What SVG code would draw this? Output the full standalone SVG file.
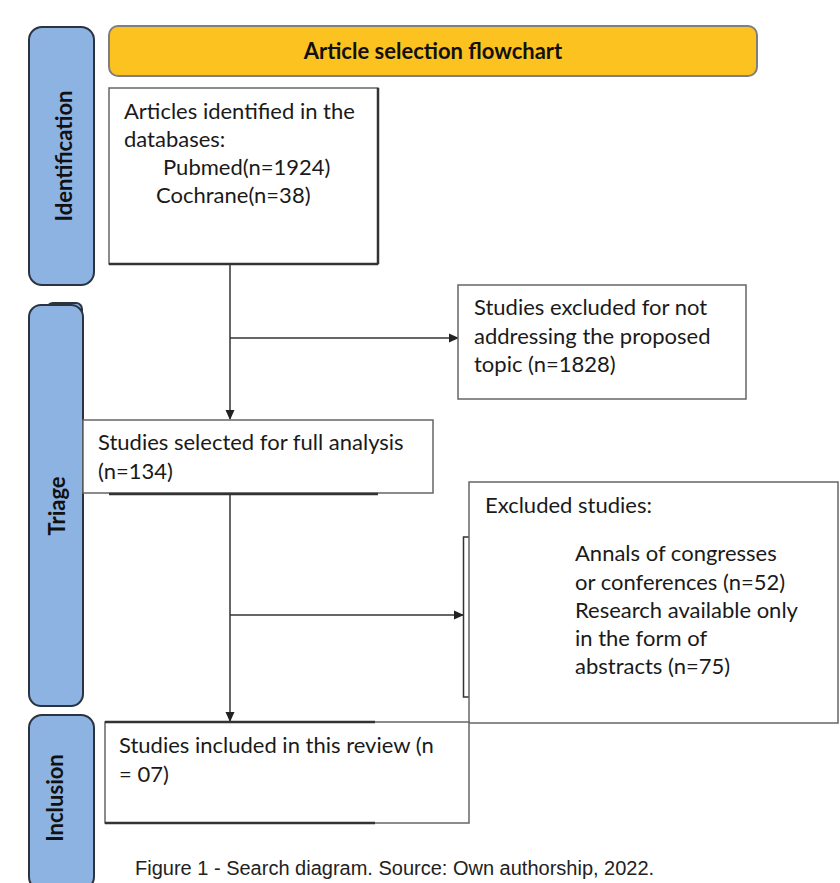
<svg xmlns="http://www.w3.org/2000/svg" width="840" height="883" viewBox="0 0 840 883">
<defs>
<marker id="ah" markerWidth="10" markerHeight="10" refX="9" refY="5" orient="auto" markerUnits="userSpaceOnUse">
<path d="M0,0.5 L10,5 L0,9.5 z" fill="#222"/>
</marker>
<style>
.side{fill:#8DB3E2;stroke:#2B3340;stroke-width:2}
.box{fill:#fff;stroke:#666;stroke-width:1.5}
.t{font-family:Lato,"Open Sans",sans-serif;font-size:22px;fill:#1a1a1a}
.sb{font-family:Lato,"Open Sans",sans-serif;font-size:22px;font-weight:bold;fill:#111}
.c{fill:none;stroke:#333;stroke-width:1.5}
.sh{stroke:#333;stroke-width:2.5;fill:none}
</style>
</defs>
<rect width="840" height="883" fill="#fff"/>
<g id="title">
<rect x="109" y="26" width="648" height="50" rx="9" fill="#FCC21F" stroke="#7F7F7F" stroke-width="2"/>
<text x="433" y="59" text-anchor="middle" class="sb">Article selection flowchart</text>
</g>
<g id="lane-identification">
<rect x="29" y="27" width="65" height="258" rx="13" class="side"/>
<text transform="translate(72,156) rotate(-90)" text-anchor="middle" class="sb">Identification</text>
</g>
<g id="lane-triage">
<rect x="47" y="303" width="35" height="20" rx="6" class="side"/>
<rect x="29" y="305" width="54" height="401" rx="12" class="side"/>
<text transform="translate(65,506) rotate(-90)" text-anchor="middle" class="sb">Triage</text>
</g>
<g id="lane-inclusion">
<rect x="29" y="715" width="65" height="175" rx="13" class="side"/>
<text transform="translate(63,798) rotate(-90)" text-anchor="middle" class="sb">Inclusion</text>
</g>
<g id="connectors">
<line x1="230" y1="264" x2="230" y2="419" class="c" marker-end="url(#ah)"/>
<line x1="230" y1="338" x2="458" y2="338" class="c" marker-end="url(#ah)"/>
<line x1="230" y1="493" x2="230" y2="721" class="c" marker-end="url(#ah)"/>
<line x1="230" y1="615" x2="463" y2="615" class="c" marker-end="url(#ah)"/>
<path d="M469,537 H463.5 V697 H469" class="c"/>
</g>
<g id="identified">
<rect x="109" y="88" width="269" height="176" class="box"/>
<line x1="109" y1="264" x2="378" y2="264" class="sh"/>
<line x1="378" y1="88" x2="378" y2="264" class="sh" stroke-width="2"/>
<text class="t"><tspan x="124" y="119">Articles identified in the</tspan><tspan x="124" y="147">databases:</tspan><tspan x="163" y="175">Pubmed(n=1924)</tspan><tspan x="156" y="203">Cochrane(n=38)</tspan></text>
</g>
<g id="excluded-topic">
<rect x="458" y="285" width="288" height="114" class="box"/>
<text class="t"><tspan x="474" y="315">Studies excluded for not</tspan><tspan x="474" y="344">addressing the proposed</tspan><tspan x="474" y="372">topic (n=1828)</tspan></text>
</g>
<g id="selected">
<rect x="83" y="420" width="350" height="73" class="box"/>
<line x1="109" y1="494" x2="378" y2="494" class="sh" stroke-width="2"/>
<text class="t"><tspan x="98" y="450">Studies selected for full analysis</tspan><tspan x="98" y="479">(n=134)</tspan></text>
</g>
<g id="excluded-studies">
<rect x="469" y="482" width="369" height="241" class="box"/>
<text class="t"><tspan x="485" y="513">Excluded studies:</tspan><tspan x="575" y="561">Annals of congresses</tspan><tspan x="575" y="590">or conferences (n=52)</tspan><tspan x="575" y="618">Research available only</tspan><tspan x="575" y="646">in the form of</tspan><tspan x="575" y="674">abstracts (n=75)</tspan></text>
</g>
<g id="included">
<rect x="105" y="722" width="364" height="101" class="box"/>
<line x1="105" y1="722" x2="375" y2="722" class="sh" stroke-width="2"/>
<line x1="105" y1="823" x2="375" y2="823" class="sh" stroke-width="2"/>
<text class="t"><tspan x="119" y="753">Studies included in this review (n</tspan><tspan x="119" y="782">= 07)</tspan></text>
</g>
<text x="135" y="875" style="font-family:'Liberation Sans',Arial,sans-serif;font-size:20px;fill:#222">Figure 1 - Search diagram. Source: Own authorship, 2022.</text>
</svg>
